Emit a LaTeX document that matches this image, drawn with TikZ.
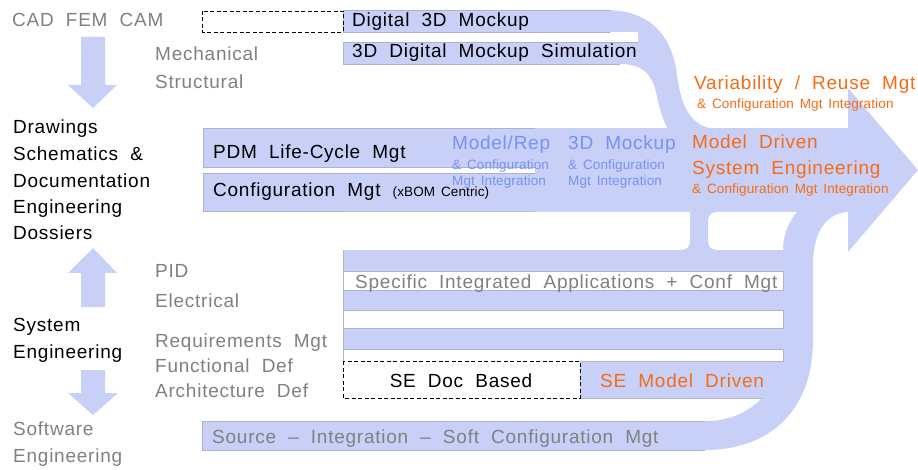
\documentclass[tikz,border=0pt]{standalone}
\usepackage{fontspec}
\setmainfont{Liberation Sans}[LetterSpace=4,WordSpace=2]
\newfontfamily\smallfam{Liberation Sans}[LetterSpace=1,WordSpace=1.5]
\definecolor{flow}{RGB}{200,208,248}
\definecolor{edge}{RGB}{175,178,200}
\definecolor{greytext}{RGB}{128,128,128}
\definecolor{bluetext}{RGB}{118,146,244}
\definecolor{orangetext}{RGB}{245,108,20}
\newcommand\smallfont{\smallfam\fontsize{13.5}{15}\selectfont}
\tikzset{
  big/.style={font=\fontsize{19}{22}\selectfont, inner sep=0pt, anchor=base west},
  small/.style={font=\smallfont, inner sep=0pt, anchor=base west},
  grey/.style={text=greytext},
  bluet/.style={text=bluetext},
  orange/.style={text=orangetext},
  flowfill/.style={fill=flow},
  boxedge/.style={draw=edge, line width=0.6pt},
  dashbox/.style={draw=black, line width=0.8pt, dash pattern=on 4pt off 2.5pt},
}
\begin{document}
\begin{tikzpicture}[x=1pt,y=-1pt]
\useasboundingbox (0,0) rectangle (918,470);

% ---------- left column: block arrows ----------
\fill[flowfill] (81,37) -- (105,37) -- (105,85) -- (117,85) -- (93,108) -- (68,85) -- (81,85) -- cycle;
\fill[flowfill] (93,248) -- (117,273) -- (105,273) -- (105,307) -- (81,307) -- (81,273) -- (68,273) -- cycle;
\fill[flowfill] (81,370) -- (105,370) -- (105,393) -- (118,393) -- (93,415) -- (68,393) -- (81,393) -- cycle;

% ---------- main stream: shaft and head ----------
\fill[flowfill] (535,128) rectangle (850,212);
\fill[flowfill] (848,88) -- (918,170) -- (848,252) -- cycle;

% ---------- upper stream bending down into the shaft ----------
\fill[flowfill] (560,10) -- (605,10) .. controls (650,10) and (672,35) .. (677,75)
  .. controls (681,108) and (692,127) .. (715,129) -- (668,129)
  .. controls (660,115) and (658,100) .. (655,88)
  .. controls (650,72) and (640,64) .. (620,64) -- (560,64) -- cycle;
\fill[white] (343,32) rectangle (638,42);
\fill[flowfill] (343,10) rectangle (610,32);
\fill[flowfill] (343,42) rectangle (638,64);
\draw[boxedge] (610,10) -- (343,10) -- (343,32) -- (610,32);
\draw[boxedge] (638,42) -- (343,42) -- (343,64) -- (620,64);
\draw[dashbox] (202,11) rectangle (343,32);

% ---------- PDM and configuration boxes ----------
\fill[flowfill] (203,128) rectangle (535,167);
\fill[flowfill] (203,173) rectangle (535,211);
\draw[boxedge] (535,128) -- (203,128) -- (203,167) -- (535,167);
\draw[boxedge] (535,173) -- (203,173) -- (203,211) -- (535,211);

% ---------- lower streams gathering into the shaft ----------
\fill[flowfill] (343,212) -- (848,212) .. controls (826,213) and (813,232) .. (813,265)
  -- (813,340) .. controls (813,410) and (770,450) .. (705,450)
  -- (202,450) -- (202,421) -- (343,421) -- cycle;
% open pockets between the streams
\fill[white] (343,212) -- (690,212) -- (690,240) .. controls (690,247) and (687,250) .. (680,250)
  -- (343,250) -- cycle;
\fill[white] (718,212) -- (797,212) .. controls (788,222) and (783,235) .. (783,250)
  -- (718,250) .. controls (711,250) and (708,247) .. (708,240)
  -- (708,222) .. controls (708,215) and (711,212) .. (718,212) -- cycle;
\filldraw[fill=white, boxedge] (343,271) rectangle (783,290);
\filldraw[fill=white, boxedge] (343,310) rectangle (783,328);
\filldraw[fill=white, boxedge] (343,349) rectangle (783,361);
\fill[white] (343,398) -- (762,398) .. controls (748,412) and (730,421) .. (705,421) -- (343,421) -- cycle;
\draw[boxedge] (343,250) -- (343,361);
\draw[boxedge] (580,398) -- (762,398);
\draw[boxedge] (705,421) -- (202,421) -- (202,450) -- (705,450);
\filldraw[fill=white, dashbox] (343,361) rectangle (580,398);

% ---------- texts ----------
\node[big, grey] (cad) at (12,27) {CAD FEM CAM};
\node[big, grey] (mech) at (155,61) {Mechanical};
\node[big, grey] (struct) at (155,89) {Structural};
\node[big] (d3m) at (352,27) {Digital 3D Mockup};
\node[big] (d3s) at (352,58) {3D Digital Mockup Simulation};

\node[big] (dr1) at (13,134) {Drawings};
\node[big] (dr2) at (13,161) {Schematics \&};
\node[big] (dr3) at (13,188) {Documentation};
\node[big] (dr4) at (13,214) {Engineering};
\node[big] (dr5) at (13,240) {Dossiers};

\node[big] (pdm) at (213,159) {PDM Life-Cycle Mgt};
\node[big] (conf) at (213,197) {Configuration Mgt {\smallfont(xBOM Centric)}};

\node[big, bluet] (mr) at (452,150) {Model/Rep};
\node[small, bluet] (mr2) at (452,170) {\& Configuration};
\node[small, bluet] (mr3) at (452,186) {Mgt Integration};
\node[big, bluet] (mk) at (568,150) {3D Mockup};
\node[small, bluet] (mk2) at (568,170) {\& Configuration};
\node[small, bluet] (mk3) at (568,186) {Mgt Integration};

\node[big, orange] (var) at (694,90) {Variability / Reuse Mgt};
\node[small, orange] (var2) at (697,109) {\& Configuration Mgt Integration};
\node[big, orange] (mdse1) at (692,149) {Model Driven};
\node[big, orange] (mdse2) at (692,175) {System Engineering};
\node[small, orange] (mdse3) at (692,194) {\& Configuration Mgt Integration};

\node[big, grey] (pid) at (155,278) {PID};
\node[big, grey] (elec) at (155,307) {Electrical};
\node[big] (sys1) at (13,331) {System};
\node[big] (sys2) at (13,358) {Engineering};
\node[big, grey] (req) at (155,347) {Requirements Mgt};
\node[big, grey] (fun) at (155,372) {Functional Def};
\node[big, grey] (arch) at (155,397) {Architecture Def};
\node[big, grey] (sw1) at (13,435) {Software};
\node[big, grey] (sw2) at (13,462) {Engineering};

\node[big, grey] (spec) at (355,288) {Specific Integrated Applications + Conf Mgt};
\node[big, anchor=base] (sedoc) at (461,387) {SE Doc Based};
\node[big, orange] (semd) at (600,387) {SE Model Driven};
\node[big, grey] (src) at (212,443) {Source -- Integration -- Soft Configuration Mgt};
\end{tikzpicture}
\end{document}
